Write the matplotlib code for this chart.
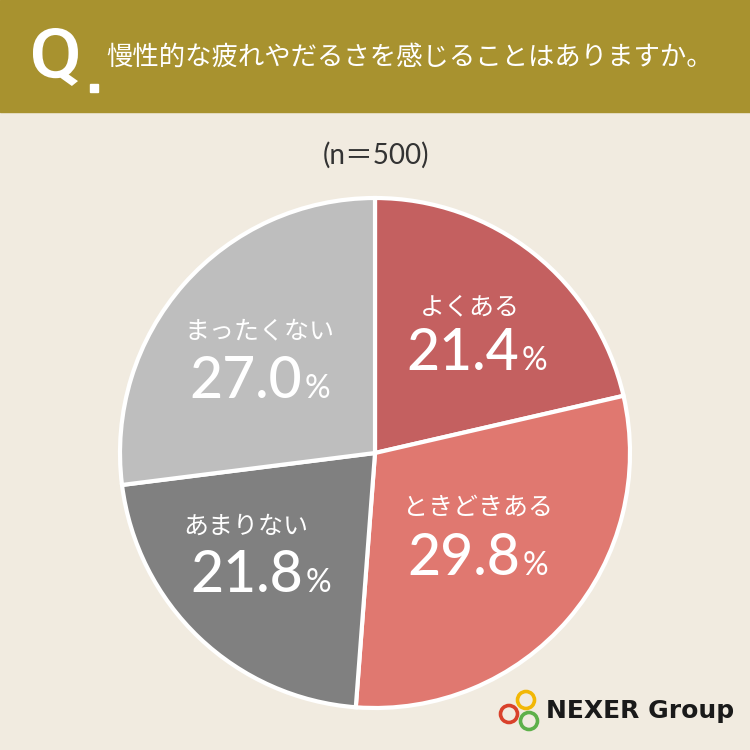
import matplotlib.pyplot as plt
from matplotlib.patches import Rectangle, Circle, PathPatch
from matplotlib.textpath import TextPath
from matplotlib.font_manager import FontProperties
from matplotlib.transforms import Affine2D

plt.rcParams['font.family'] = ['Noto Sans CJK JP', 'DejaVu Sans']

labels = ['よくある', 'ときどきある', 'あまりない', 'まったくない']
values = [21.4, 29.8, 21.8, 27.0]
colors = ['#C46060', '#E07870', '#808080', '#BEBEBE']
question = '慢性的な疲れやだるさを感じることはありますか。'
n_text = '(n＝500)'

# text positions in pixels (y from top): label centre, number right edge + baseline
label_xy = [(470, 307), (478, 508), (246, 527), (259, 331)]
num_xy = [(519, 370), (520, 575), (303, 592), (302, 398)]

H = 750
fig = plt.figure(figsize=(7.5, 7.5), dpi=100)
fig.patch.set_facecolor('#F1EBE0')
ax = fig.add_axes([0, 0, 1, 1])
ax.axis('off')

# header band
ax.add_patch(Rectangle((0, H - 112), 750, 112, color='#A8922F', zorder=1))

# tall narrow "Q" drawn as a path and fitted into its box
qp = TextPath((0, 0), 'Q', size=100, prop=FontProperties(family='Roboto', weight='medium'))
ext = qp.get_extents()
x0, x1, y0, y1 = 33, 78, H - 86, H - 28
tr = Affine2D().translate(-ext.x0, -ext.y0).scale((x1 - x0) / ext.width,
                                                   (y1 - y0) / ext.height).translate(x0, y0)
ax.add_patch(PathPatch(tr.transform_path(qp), color='white', lw=0, zorder=2))
ax.add_patch(Rectangle((90, H - 92), 8, 8, color='white', zorder=2))

ax.text(106, H - 57, question, color='white', fontsize=19,
        ha='left', va='center')

ax.text(376, H - 155, n_text, color='#333333', fontsize=20,
        ha='center', va='center', family=['Lato', 'Noto Sans CJK JP'])

ax.pie(values, colors=colors, startangle=90, counterclock=False,
       center=(375, H - 453), radius=255,
       wedgeprops=dict(edgecolor='white', linewidth=3))
ax.set_xlim(0, 750)
ax.set_ylim(0, 750)
ax.set_aspect('equal')

for lab, v, (lx, ly), (nx, ny) in zip(labels, values, label_xy, num_xy):
    ax.text(lx, H - ly, lab, color='white', fontsize=18, ha='center', va='center')
    ax.text(nx, H - ny, '%.1f' % v, color='white', fontsize=41,
            fontweight='medium', ha='right', va='baseline',
            family=['Lato', 'DejaVu Sans'])
    ax.text(nx + 3, H - ny, '%', color='white', fontsize=23,
            ha='left', va='baseline', family=['Lato', 'DejaVu Sans'])

# logo
for cx, cy, c in [(526, 700, '#F2B705'), (509, 714, '#D9412B'), (529, 721, '#5DB04A')]:
    ax.add_patch(Circle((cx, H - cy), 8.5, fill=False, edgecolor=c, linewidth=2.6, zorder=5))
ax.text(546, H - 711, 'NEXER Group', color='#1A1A1A', fontsize=18,
        fontweight='bold', ha='left', va='center', family=['DejaVu Sans'])

fig.savefig('out.png', dpi=100, facecolor=fig.get_facecolor())
